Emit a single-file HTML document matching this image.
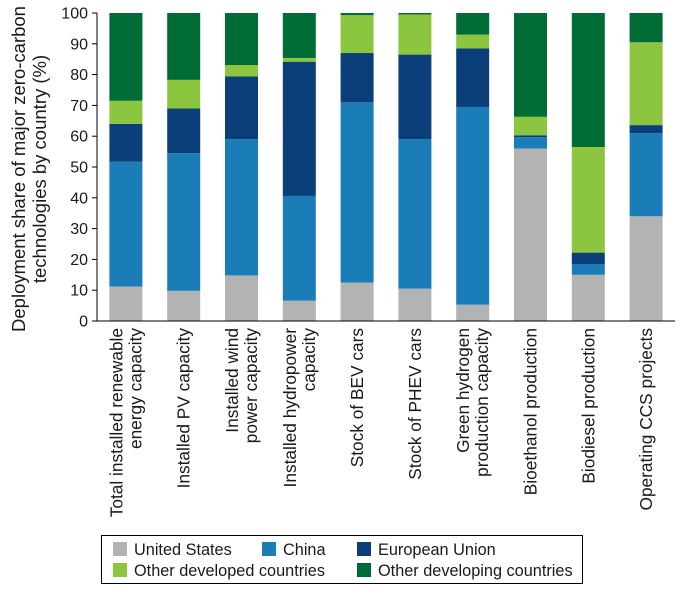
<!DOCTYPE html>
<html><head><meta charset="utf-8"><style>
body{margin:0;background:#fff;font-family:"Liberation Sans",Arial,sans-serif}
svg text{font-family:"Liberation Sans",Arial,sans-serif;fill:#1a1a1a}
</style></head><body>
<svg id="chart" width="684" height="591" viewBox="0 0 684 591"></svg>
<script>
const categories=[["Total installed renewable","energy capacity"],["Installed PV capacity"],["Installed wind","power capacity"],["Installed hydropower","capacity"],["Stock of BEV cars"],["Stock of PHEV cars"],["Green hydrogen","production capacity"],["Bioethanol production"],["Biodiesel production"],["Operating CCS projects"]];
const usValues=[11.2,9.8,14.8,6.6,12.5,10.5,5.3,56,15,34];
const chinaValues=[40.5,44.7,44.2,34,58.5,48.5,64.2,3.7,3.5,27];
const euValues=[12.3,14.5,20.4,43.6,16,27.5,19,0.6,3.7,2.6];
const otherDevelopedValues=[7.5,9.3,3.7,1.2,12.3,13,4.5,6,34.3,26.9];
const otherDevelopingValues=[28.5,21.7,16.9,14.6,0.7,0.5,7,33.7,43.5,9.5];
const yTicks=[0,10,20,30,40,50,60,70,80,90,100];
const seriesNames=["United States","China","European Union","Other developed countries","Other developing countries"];
const colors=["#b3b3b3","#1b7db8","#0a3f7a","#8cc63f","#006c35"];
const series=[usValues,chinaValues,euValues,otherDevelopedValues,otherDevelopingValues];
const seriesKeys=["us","china","eu","other-developed","other-developing"];
const NS="http://www.w3.org/2000/svg";
const svg=document.getElementById('chart');
const x0=97,x1=675,yTop=13,yBot=321;
const y=v=>yBot-(v/100)*(yBot-yTop);
const band=(x1-x0)/categories.length;
const xc=i=>x0+band*(i+0.5);
const bw=33;
function mk(tag,attrs){const e=document.createElementNS(NS,tag);for(const k in attrs)e.setAttribute(k,attrs[k]);svg.appendChild(e);return e;}
yTicks.forEach(t=>{
 const l=mk('line',{x1:x0-5,x2:x0,y1:y(t),y2:y(t),stroke:'#000','stroke-width':1});
 
 
 const tx=mk('text',{x:x0-9,y:y(t)+5.5,'text-anchor':'end','font-size':16});
 tx.textContent=t;
 
 
});
categories.forEach((c,i)=>{
 let acc=0;
 series.forEach((s,k)=>{
  const v=s[i];
  const r=mk('rect',{x:xc(i)-bw/2,y:y(acc+v),width:bw,height:Math.max(0,y(acc)-y(acc+v)),fill:colors[k]});
  
  
  acc+=v;
 });
 const n=c.length;
 c.forEach((line,j)=>{
  const lx=xc(i)+(j-(n-1)/2)*19+6;
  const t=mk('text',{x:0,y:0,'text-anchor':'end','font-size':17.3,transform:`translate(${lx},328) rotate(-90)`});
  t.textContent=line;
  
  
 });
});
const ax=mk('line',{x1:x0,x2:x0,y1:yTop,y2:yBot,stroke:'#000','stroke-width':1});


const bx=mk('line',{x1:x0,x2:x1,y1:yBot,y2:yBot,stroke:'#000','stroke-width':1});


["Deployment share of major zero-carbon","technologies by country (%)"].forEach((s,j)=>{
 const t=mk('text',{x:0,y:0,'text-anchor':'middle','font-size':18.5,transform:`translate(${25+j*21},169) rotate(-90)`});
 t.textContent=s;
 
 
});
const lg=mk('rect',{x:101.5,y:535.5,width:481,height:48,fill:'none',stroke:'#000','stroke-width':1});


const pos=[[113,542],[262,542],[357,542],[113,563],[357,563]];
seriesNames.forEach((nm,k)=>{
 const sw=mk('rect',{x:pos[k][0],y:pos[k][1],width:14,height:14,fill:colors[k]});
 
 
 const t=mk('text',{x:pos[k][0]+21,y:pos[k][1]+13,'font-size':16.3});
 t.textContent=nm;
 
 
});
</script>
</body></html>
